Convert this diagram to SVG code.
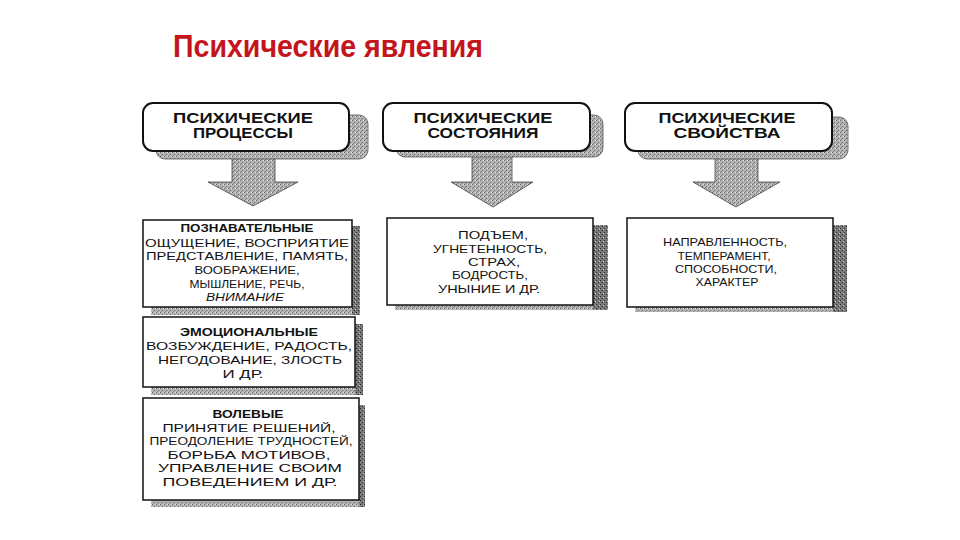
<svg xmlns="http://www.w3.org/2000/svg" width="960" height="540" viewBox="0 0 960 540">
<defs>
<pattern id="dither" width="4" height="4" patternUnits="userSpaceOnUse">
<rect width="4" height="4" fill="#b4b4b4"/>
<rect x="0" y="0" width="1" height="1" fill="#6a6a6a"/>
<rect x="2" y="2" width="1" height="1" fill="#6a6a6a"/>
<rect x="3" y="0" width="1" height="1" fill="#e0e0e0"/>
<rect x="1" y="3" width="1" height="1" fill="#8a8a8a"/>
</pattern>
<pattern id="ditherDark" width="4" height="4" patternUnits="userSpaceOnUse">
<rect width="4" height="4" fill="#7a7a7a"/>
<rect x="0" y="0" width="1" height="1" fill="#2a2a2a"/>
<rect x="2" y="2" width="1" height="1" fill="#2a2a2a"/>
<rect x="3" y="1" width="1" height="1" fill="#c8c8c8"/>
</pattern>
</defs>
<style>
.title{font-family:"Liberation Sans",Arial,sans-serif;font-weight:bold;font-size:32px;fill:#c4141c}
.hdr{font-family:"Liberation Sans",Arial,sans-serif;font-weight:bold;font-size:14px;fill:#111;text-anchor:middle}
.bt{font-family:"Liberation Sans",Arial,sans-serif;font-size:11.5px;fill:#111;text-anchor:middle}
.bb{font-family:"Liberation Sans",Arial,sans-serif;font-weight:bold;font-size:11.5px;fill:#111;text-anchor:middle}
.hbox{fill:#fff;stroke:#111;stroke-width:2}
.hsh{fill:url(#dither);stroke:#555;stroke-width:0.8}
.cbox{fill:#fff;stroke:#111;stroke-width:1.5}
.csh{fill:url(#dither)}
.cshd{fill:url(#ditherDark)}
.arr{fill:url(#dither);stroke:#444;stroke-width:0.8}
</style>
<rect width="960" height="540" fill="#fff"/>
<text class="title" x="173" y="57" textLength="310" lengthAdjust="spacingAndGlyphs">Психические явления</text>

<g id="connectors">
<polygon class="arr" points="232,156 275,156 275,182 298,182 253,206 208,182 232,182"/>
<polygon class="arr" points="472,156 512,156 512,182 533,182 493,207 451,182 472,182"/>
<polygon class="arr" points="715,156 758,156 758,182 780,182 736,207 693,182 715,182"/>
</g>

<g id="hdr-processes">
<rect class="hsh" x="156" y="115" width="212" height="44" rx="9"/>
<rect class="hbox" x="143" y="103" width="206" height="48" rx="10"/>
<text class="hdr" x="243" y="123" textLength="140" lengthAdjust="spacingAndGlyphs">ПСИХИЧЕСКИЕ</text>
<text class="hdr" x="243" y="138" textLength="100" lengthAdjust="spacingAndGlyphs">ПРОЦЕССЫ</text>
</g>

<g id="hdr-states">
<rect class="hsh" x="396" y="115" width="207" height="42" rx="9"/>
<rect class="hbox" x="383" y="103" width="207" height="48" rx="10"/>
<text class="hdr" x="483" y="123" textLength="139" lengthAdjust="spacingAndGlyphs">ПСИХИЧЕСКИЕ</text>
<text class="hdr" x="483" y="138" textLength="111" lengthAdjust="spacingAndGlyphs">СОСТОЯНИЯ</text>
</g>

<g id="hdr-properties">
<rect class="hsh" x="638" y="117" width="210" height="42" rx="9"/>
<rect class="hbox" x="625" y="103" width="207" height="48" rx="10"/>
<text class="hdr" x="727" y="123" textLength="137" lengthAdjust="spacingAndGlyphs">ПСИХИЧЕСКИЕ</text>
<text class="hdr" x="727" y="138" textLength="107" lengthAdjust="spacingAndGlyphs">СВОЙСТВА</text>
</g>

<g id="box-cognitive">
<rect class="csh" x="151" y="226" width="209" height="89"/>
<rect class="cshd" x="352" y="226" width="8" height="89"/>
<rect class="cbox" x="143" y="220" width="209" height="87"/>
<text class="bb" x="247" y="232" textLength="133" lengthAdjust="spacingAndGlyphs">ПОЗНАВАТЕЛЬНЫЕ</text>
<text class="bt" x="247" y="247" textLength="204" lengthAdjust="spacingAndGlyphs">ОЩУЩЕНИЕ, ВОСПРИЯТИЕ</text>
<text class="bt" x="247" y="260" textLength="202" lengthAdjust="spacingAndGlyphs">ПРЕДСТАВЛЕНИЕ, ПАМЯТЬ,</text>
<text class="bt" x="247" y="274" textLength="105" lengthAdjust="spacingAndGlyphs">ВООБРАЖЕНИЕ,</text>
<text class="bt" x="247" y="288" textLength="115" lengthAdjust="spacingAndGlyphs">МЫШЛЕНИЕ, РЕЧЬ,</text>
<text class="bt" x="245" y="301" textLength="78" lengthAdjust="spacingAndGlyphs" font-style="italic">ВНИМАНИЕ</text>
</g>

<g id="box-emotional">
<rect class="csh" x="151" y="324" width="212" height="71"/>
<rect class="cshd" x="355" y="324" width="8" height="71"/>
<rect class="cbox" x="143" y="317" width="212" height="70"/>
<text class="bb" x="249" y="336" textLength="138" lengthAdjust="spacingAndGlyphs">ЭМОЦИОНАЛЬНЫЕ</text>
<text class="bt" x="249" y="350" textLength="206" lengthAdjust="spacingAndGlyphs">ВОЗБУЖДЕНИЕ, РАДОСТЬ,</text>
<text class="bt" x="250" y="364" textLength="184" lengthAdjust="spacingAndGlyphs">НЕГОДОВАНИЕ, ЗЛОСТЬ</text>
<text class="bt" x="243" y="378" textLength="41" lengthAdjust="spacingAndGlyphs">И ДР.</text>
</g>

<g id="box-volitional">
<rect class="csh" x="151" y="405" width="214" height="102"/>
<rect class="cshd" x="359" y="405" width="6" height="102"/>
<rect class="cbox" x="143" y="398" width="216" height="102"/>
<text class="bb" x="248" y="418" textLength="71" lengthAdjust="spacingAndGlyphs">ВОЛЕВЫЕ</text>
<text class="bt" x="249" y="432" textLength="173" lengthAdjust="spacingAndGlyphs">ПРИНЯТИЕ РЕШЕНИЙ,</text>
<text class="bt" x="251" y="445" textLength="203" lengthAdjust="spacingAndGlyphs">ПРЕОДОЛЕНИЕ ТРУДНОСТЕЙ,</text>
<text class="bt" x="249" y="459" textLength="163" lengthAdjust="spacingAndGlyphs">БОРЬБА МОТИВОВ,</text>
<text class="bt" x="250" y="472" textLength="184" lengthAdjust="spacingAndGlyphs">УПРАВЛЕНИЕ СВОИМ</text>
<text class="bt" x="250" y="486" textLength="175" lengthAdjust="spacingAndGlyphs">ПОВЕДЕНИЕМ И ДР.</text>
</g>

<g id="box-states">
<rect class="csh" x="395" y="225" width="213" height="85"/>
<rect class="cshd" x="593" y="225" width="15" height="85"/>
<rect class="cbox" x="387" y="218" width="206" height="87"/>
<text class="bt" x="493" y="239" textLength="70" lengthAdjust="spacingAndGlyphs">ПОДЪЕМ,</text>
<text class="bt" x="490" y="253" textLength="114" lengthAdjust="spacingAndGlyphs">УГНЕТЕННОСТЬ,</text>
<text class="bt" x="494" y="266" textLength="52" lengthAdjust="spacingAndGlyphs">СТРАХ,</text>
<text class="bt" x="490" y="279" textLength="76" lengthAdjust="spacingAndGlyphs">БОДРОСТЬ,</text>
<text class="bt" x="489" y="293" textLength="102" lengthAdjust="spacingAndGlyphs">УНЫНИЕ И ДР.</text>
</g>

<g id="box-properties">
<rect class="csh" x="635" y="225" width="212" height="87"/>
<rect class="cshd" x="833" y="225" width="14" height="87"/>
<rect class="cbox" x="627" y="218" width="206" height="89"/>
<text class="bt" x="725" y="246" textLength="124" lengthAdjust="spacingAndGlyphs">НАПРАВЛЕННОСТЬ,</text>
<text class="bt" x="724" y="260" textLength="93" lengthAdjust="spacingAndGlyphs">ТЕМПЕРАМЕНТ,</text>
<text class="bt" x="726" y="273" textLength="102" lengthAdjust="spacingAndGlyphs">СПОСОБНОСТИ,</text>
<text class="bt" x="727" y="286" textLength="63" lengthAdjust="spacingAndGlyphs">ХАРАКТЕР</text>
</g>
</svg>
